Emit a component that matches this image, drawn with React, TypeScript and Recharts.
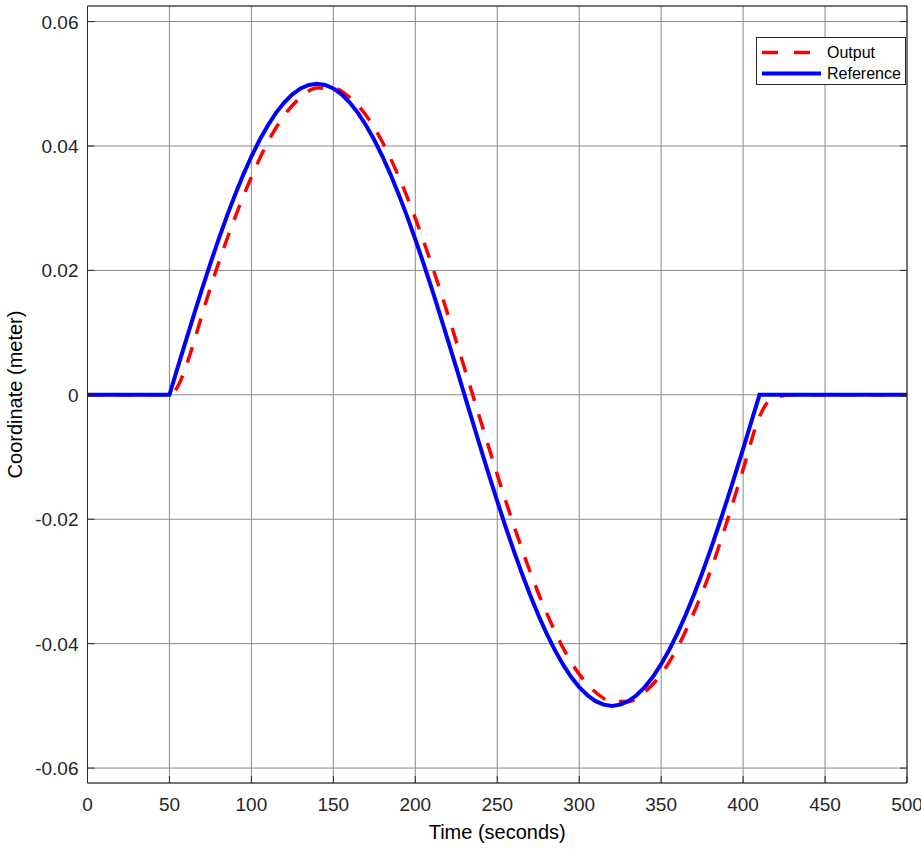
import React from 'react';
import { LineChart, Line, XAxis, YAxis, CartesianGrid, Legend, Label } from 'recharts';

// values
const timeTicks = [0, 50, 100, 150, 200, 250, 300, 350, 400, 450, 500];
const coordTicks = [-0.06, -0.04, -0.02, 0, 0.02, 0.04, 0.06];

const refTime = [
  0, 50, 55, 60, 65, 70, 75, 80, 85, 90, 95, 100, 105, 110, 115, 120, 125, 130, 135, 140,
  145, 150, 155, 160, 165, 170, 175, 180, 185, 190, 195, 200, 205, 210, 215, 220, 225, 230,
  235, 240, 245, 250, 255, 260, 265, 270, 275, 280, 285, 290, 295, 300, 305, 310, 315, 320,
  325, 330, 335, 340, 345, 350, 355, 360, 365, 370, 375, 380, 385, 390, 395, 400, 405, 410, 500,
];
const refCoord = [
  0, 0, 0.00436, 0.00868, 0.01294, 0.0171, 0.02113, 0.025, 0.02868, 0.03214, 0.03536, 0.0383,
  0.04096, 0.0433, 0.04532, 0.04698, 0.0483, 0.04924, 0.04981, 0.05,
  0.04981, 0.04924, 0.0483, 0.04698, 0.04532, 0.0433, 0.04096, 0.0383, 0.03536, 0.03214,
  0.02868, 0.025, 0.02113, 0.0171, 0.01294, 0.00868, 0.00436, 0,
  -0.00436, -0.00868, -0.01294, -0.0171, -0.02113, -0.025, -0.02868, -0.03214, -0.03536,
  -0.0383, -0.04096, -0.0433, -0.04532, -0.04698, -0.0483, -0.04924, -0.04981, -0.05,
  -0.04981, -0.04924, -0.0483, -0.04698, -0.04532, -0.0433, -0.04096, -0.0383, -0.03536,
  -0.03214, -0.02868, -0.025, -0.02113, -0.0171, -0.01294, -0.00868, -0.00436, 0, 0,
];

const outTime = [
  0, 50, 55, 60, 65, 70, 80, 90, 100, 110, 120, 130, 140, 150, 160, 170, 180, 190, 200, 210,
  220, 230, 240, 250, 260, 270, 280, 290, 300, 310, 320, 330, 340, 350, 360, 370, 380, 390,
  400, 410, 415, 420, 430, 500,
];
const outCoord = [
  0, 0, 0.0013, 0.0045, 0.0085, 0.013, 0.0212, 0.0285, 0.035, 0.0406, 0.0449, 0.0478, 0.0493,
  0.0493, 0.0478, 0.0449, 0.0406, 0.035, 0.0284, 0.0209, 0.0128, 0.0043, -0.0043, -0.0128,
  -0.0209, -0.0284, -0.035, -0.0406, -0.0449, -0.0478, -0.0493, -0.0493, -0.0478, -0.0449,
  -0.0406, -0.035, -0.0284, -0.0205, -0.012, -0.0035, -0.0012, -0.0004, 0, 0,
];

const referenceData = refTime.map((t, i) => ({ t, v: refCoord[i] }));
const outputData = outTime.map((t, i) => ({ t, v: outCoord[i] }));

const FONT = '"Liberation Sans", Arial, sans-serif';
const INK = '#262626';

const fmtCoord = (v: number) => (v === 0 ? '0' : v.toFixed(2));

const LeftTick = ({ x, y, payload }: any) => (
  <g>
    <line x1={x} x2={x + 7} y1={y} y2={y} stroke={INK} />
    <text x={x - 9} y={y} dy={7} textAnchor="end" fontSize={19} fontFamily={FONT} fill={INK}>
      {fmtCoord(payload.value)}
    </text>
  </g>
);
const BottomTick = ({ x, y, payload }: any) => (
  <g>
    <line x1={x} x2={x} y1={y} y2={y - 7} stroke={INK} />
    <text x={x} y={y + 28} textAnchor="middle" fontSize={19} fontFamily={FONT} fill={INK}>
      {payload.value}
    </text>
  </g>
);
const RightTick = ({ x, y }: any) => <line x1={x} x2={x - 7} y1={y} y2={y} stroke={INK} />;
const TopTick = ({ x, y }: any) => <line x1={x} x2={x} y1={y} y2={y + 7} stroke={INK} />;

const LegendBox = ({ payload }: any) => (
  <div
    style={{
      border: '1px solid #262626',
      background: '#fff',
      width: 148,
      padding: '4px 0 0 0',
      fontFamily: FONT,
      fontSize: 16,
      color: '#000',
    }}
  >
    {(payload || []).map((p: any) => (
      <div key={p.value} style={{ display: 'flex', alignItems: 'center', height: 21 }}>
        <svg width={70} height={21}>
          <line
            x1={5}
            x2={64}
            y1={10.5}
            y2={10.5}
            stroke={p.color}
            strokeWidth={p.value === 'Output' ? 3.5 : 4}
            strokeDasharray={p.value === 'Output' ? '16 16' : undefined}
          />
        </svg>
        <span>{p.value}</span>
      </div>
    ))}
  </div>
);

export default function App() {
  return (
    <div style={{ position: 'absolute', left: 0, top: 0, background: '#fff' }}>
      <LineChart width={921} height={850} margin={{ top: 0, right: 0, bottom: 0, left: 0 }}>
        <CartesianGrid stroke="#8a8a8a" strokeWidth={1} />
        <XAxis
          type="number"
          dataKey="t"
          domain={[0, 500]}
          ticks={timeTicks}
          allowDataOverflow
          height={67}
          tickSize={0}
          tickMargin={0}
          stroke={INK}
          tick={<BottomTick />}
        >
          <Label
            value="Time (seconds)"
            position="insideTop"
            offset={42}
            style={{ fontSize: 20, fontFamily: FONT, fill: '#000' }}
          />
        </XAxis>
        <XAxis
          xAxisId="top"
          orientation="top"
          type="number"
          domain={[0, 500]}
          ticks={timeTicks}
          allowDataOverflow
          height={6}
          tickSize={0}
          tickMargin={0}
          stroke={INK}
          tick={<TopTick />}
        />
        <YAxis
          type="number"
          domain={[-0.0624, 0.0625]}
          ticks={coordTicks}
          allowDataOverflow
          width={87.5}
          tickSize={0}
          tickMargin={0}
          stroke={INK}
          tick={<LeftTick />}
        >
          <Label
            value="Coordinate (meter)"
            angle={-90}
            position="insideLeft"
            offset={14.5}
            style={{ fontSize: 20, fontFamily: FONT, fill: '#000', textAnchor: 'middle' }}
          />
        </YAxis>
        <YAxis
          yAxisId="right"
          orientation="right"
          type="number"
          domain={[-0.0624, 0.0625]}
          ticks={coordTicks}
          allowDataOverflow
          width={14}
          tickSize={0}
          tickMargin={0}
          stroke={INK}
          tick={<RightTick />}
        />
        <Legend
          layout="vertical"
          align="center"
          verticalAlign="middle"
          wrapperStyle={{ position: 'absolute', left: 756, top: 37, width: 150 }}
          content={<LegendBox />}
        />
        <Line
          data={outputData}
          dataKey="v"
          name="Output"
          type="monotone"
          stroke="#ff0000"
          strokeWidth={3.5}
          strokeDasharray="16 14"
          dot={false}
          isAnimationActive={false}
        />
        <Line
          data={referenceData}
          dataKey="v"
          name="Reference"
          type="linear"
          stroke="#0000ff"
          strokeWidth={4}
          dot={false}
          isAnimationActive={false}
        />
      </LineChart>
    </div>
  );
}
